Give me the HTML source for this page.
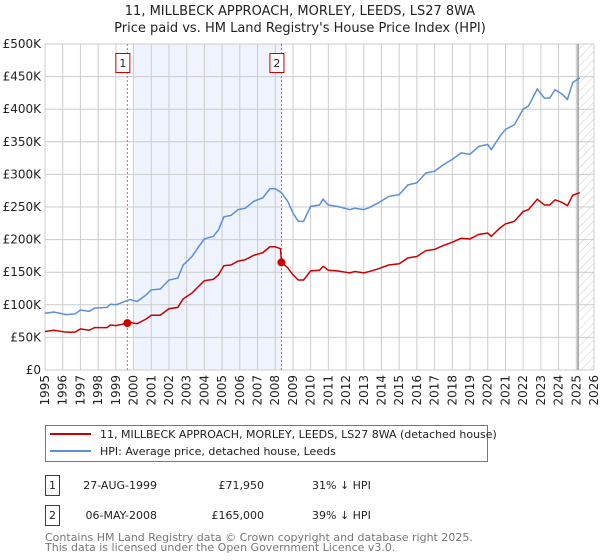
<!DOCTYPE html>
<html><head><meta charset="utf-8"><style>
body{margin:0;background:#fff;}
svg{display:block;font-family:"DejaVu Sans","Liberation Sans",sans-serif;}
</style></head><body>
<svg id="chart" width="600" height="560" viewBox="0 0 600 560" xmlns="http://www.w3.org/2000/svg">
<defs><pattern id="hatch" width="6" height="6" patternUnits="userSpaceOnUse" patternTransform="rotate(45)"><line x1="0" y1="0" x2="0" y2="6" stroke="#ccc" stroke-width="1"/></pattern></defs>
<text x="300" y="15" text-anchor="middle" font-size="13" fill="#222">11, MILLBECK APPROACH, MORLEY, LEEDS, LS27 8WA</text>
<text x="300" y="32" text-anchor="middle" font-size="13" fill="#222">Price paid vs. HM Land Registry's House Price Index (HPI)</text>
<g id="plot"></g>
<g>
<rect x="45.5" y="425.5" width="442" height="36" fill="#fff" stroke="#777"/>
<line x1="50" y1="434" x2="91" y2="434" stroke="#cc0000" stroke-width="2"/>
<text x="100" y="438" font-size="11" fill="#222">11, MILLBECK APPROACH, MORLEY, LEEDS, LS27 8WA (detached house)</text>
<line x1="50" y1="451" x2="91" y2="451" stroke="#5b8fd6" stroke-width="2"/>
<text x="100" y="455" font-size="11" fill="#222">HPI: Average price, detached house, Leeds</text>
</g>
<g font-size="11" fill="#222">
<rect x="45.5" y="475.5" width="14" height="20" fill="none" stroke="#cc0000"/>
<text x="52.5" y="489" text-anchor="middle">1</text>
<text x="157" y="489" text-anchor="end">27-AUG-1999</text>
<text x="264" y="489" text-anchor="end">£71,950</text>
<text x="312" y="489">31% ↓ HPI</text>
</g>
<g font-size="11" fill="#222">
<rect x="45.5" y="505.5" width="14" height="20" fill="none" stroke="#cc0000"/>
<text x="52.5" y="519" text-anchor="middle">2</text>
<text x="157" y="519" text-anchor="end">06-MAY-2008</text>
<text x="264" y="519" text-anchor="end">£165,000</text>
<text x="312" y="519">39% ↓ HPI</text>
</g>
<text x="45" y="541" font-size="11" fill="#777">Contains HM Land Registry data © Crown copyright and database right 2025.</text>
<text x="45" y="551" font-size="11" fill="#777">This data is licensed under the Open Government Licence v3.0.</text>
</svg>
<script>
const times=[1995.0,1995.5,1996.2,1996.7,1997.0,1997.5,1997.8,1998.5,1998.7,1999.0,1999.5,1999.8,2000.2,2000.7,2001.0,2001.5,2002.0,2002.5,2002.8,2003.3,2003.7,2004.0,2004.5,2004.8,2005.1,2005.5,2005.9,2006.3,2006.8,2007.3,2007.7,2008.0,2008.3,2008.35,2008.7,2009.0,2009.3,2009.6,2010.0,2010.5,2010.7,2011.0,2011.5,2012.2,2012.5,2013.0,2013.3,2013.8,2014.4,2015.0,2015.5,2016.0,2016.5,2017.0,2017.5,2018.0,2018.5,2019.0,2019.5,2020.0,2020.2,2020.7,2021.0,2021.5,2022.0,2022.3,2022.8,2023.2,2023.5,2023.8,2024.2,2024.5,2024.8,2025.2];
const hpiValues=[87,89,85,86,92,90,95,96,101,100,105,108,105,115,123,124,138,141,161,174,190,201,205,215,235,237,246,248,259,264,278,278,273,272,259,241,228,228,251,253,262,253,251,246,248,246,249,256,266,269,284,287,302,305,315,323,333,331,343,346,338,359,369,376,400,405,431,417,417,430,423,415,441,448];
const propertyValues=[59,61,58,58,63,61,65,65,69,68,71,73,71,78,84,84,94,96,109,118,129,137,139,146,160,161,167,169,176,180,189,189,186,165,157,146,138,138,152,153,159,153,152,149,151,149,151,155,161,163,172,174,183,185,191,196,202,201,208,210,205,218,224,228,243,246,262,253,253,261,257,252,268,272];
const saleTimes=[1999.65,2008.35];
const salePrices=[71.95,165];
const saleLabels=["1","2"];
const yTicks=[0,50,100,150,200,250,300,350,400,450,500];
const yTickLabels=["£0","£50K","£100K","£150K","£200K","£250K","£300K","£350K","£400K","£450K","£500K"];
const xYears=[1995,1996,1997,1998,1999,2000,2001,2002,2003,2004,2005,2006,2007,2008,2009,2010,2011,2012,2013,2014,2015,2016,2017,2018,2019,2020,2021,2022,2023,2024,2025,2026];
const dataEnd=2025.1;
const shadeStart=2000.05;

const X0=45,X1=594,Y0=370,Y1=44;
const x=t=>X0+(t-1995)/(2026-1995)*(X1-X0);
const y=v=>Y0-v/500*(Y0-Y1);
const NS="http://www.w3.org/2000/svg";
const g=document.getElementById('plot');
function mk(tag,attrs){const e=document.createElementNS(NS,tag);for(const k in attrs)e.setAttribute(k,attrs[k]);g.appendChild(e);return e;}

let e=mk('rect',{x:x(shadeStart),y:Y1,width:x(saleTimes[1])-x(shadeStart),height:Y0-Y1,fill:'#eef3fd'});


e=mk('rect',{x:x(dataEnd),y:Y1,width:X1-x(dataEnd),height:Y0-Y1,fill:'url(#hatch)'});


yTicks.forEach((v,i)=>{
  let l=mk('line',{x1:X0,x2:X1,y1:y(v),y2:y(v),stroke:'#ccc','stroke-width':1});
  
  
  let t=mk('text',{x:X0-4,y:y(v)+4,'text-anchor':'end','font-size':12,fill:'#222'});
  t.textContent=yTickLabels[i];
  
  
});
xYears.forEach(yr=>{
  let l=mk('line',{x1:x(yr),x2:x(yr),y1:Y1,y2:Y0,stroke:'#ccc','stroke-width':1});
  
  
  let t=mk('text',{x:0,y:0,'text-anchor':'end','font-size':12,fill:'#222',transform:`translate(${x(yr)+4},${Y0+5}) rotate(-90)`});
  t.textContent=yr;
  
  
});
e=mk('line',{x1:x(dataEnd),x2:x(dataEnd),y1:Y1,y2:Y0,stroke:'#999','stroke-width':1.5});


saleTimes.forEach((s,i)=>{
  let l=mk('line',{x1:x(s),x2:x(s),y1:Y1,y2:Y0,stroke:'#e06060','stroke-width':1,'stroke-dasharray':'2,2'});
  
  
  let r=mk('rect',{x:x(s)-11.5,y:53.5,width:14,height:19,fill:'#fff',stroke:'#cc0000'});
  
  
  let t=mk('text',{x:x(s)-4.5,y:67,'text-anchor':'middle','font-size':11,fill:'#222'});
  t.textContent=saleLabels[i];
  
  
});
e=mk('polyline',{points:times.map((t,i)=>x(t)+','+y(hpiValues[i])).join(' '),fill:'none',stroke:'#5b8fd6','stroke-width':1.5});


e=mk('polyline',{points:times.map((t,i)=>x(t)+','+y(propertyValues[i])).join(' '),fill:'none',stroke:'#cc0000','stroke-width':1.5});


saleTimes.forEach((s,i)=>{
  let c=mk('circle',{cx:x(s),cy:y(salePrices[i]),r:4,fill:'#cc0000'});
  
  
});
</script>
</body></html>
